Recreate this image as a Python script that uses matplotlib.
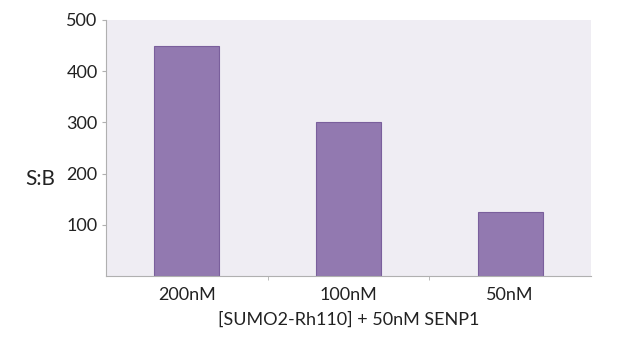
import matplotlib

matplotlib.use("Agg")
import matplotlib.pyplot as plt  # noqa: E402
import numpy as np  # noqa: E402

categories = ["200nM", "100nM", "50nM"]
sb_values = [450, 300, 125]
y_ticks = [100, 200, 300, 400, 500]

plt.rcParams["font.family"] = ["Lato", "DejaVu Sans"]

fig = plt.figure(figsize=(6.18, 3.42), dpi=100)
ax = fig.add_axes([106 / 618, 1 - 276 / 342, 485 / 618, 256 / 342])
ax.set_facecolor("#efedf3")

x = np.arange(len(categories))
ax.bar(x, sb_values, width=0.4, color="#9279b0", edgecolor="#7a5f9c", linewidth=0.8)

ax.set_xlim(-0.5, len(categories) - 0.5)
ax.set_ylim(0, 500)
ax.set_yticks(y_ticks)
ax.set_yticklabels([str(v) for v in y_ticks], fontsize=13, color="#222222")
ax.set_xticks(x)
ax.set_xticklabels(categories, fontsize=13, color="#222222")
ax.tick_params(axis="x", length=0, pad=8)
ax.set_xticks(x[:-1] + 0.5, minor=True)
ax.tick_params(axis="x", which="minor", length=3, color="#b0b0b0")
ax.tick_params(axis="y", length=3, color="#b0b0b0", pad=3)

for side in ("top", "right"):
    ax.spines[side].set_visible(False)
for side in ("left", "bottom"):
    ax.spines[side].set_color("#b0b0b0")

ax.set_ylabel("S:B", rotation=0, fontsize=15, va="center", color="#222222")
ax.yaxis.set_label_coords(-0.135, 0.38)
ax.set_xlabel("[SUMO2-Rh110] + 50nM SENP1", fontsize=13, labelpad=6, color="#222222")

fig.savefig("out.png", dpi=100)
plt.close(fig)
